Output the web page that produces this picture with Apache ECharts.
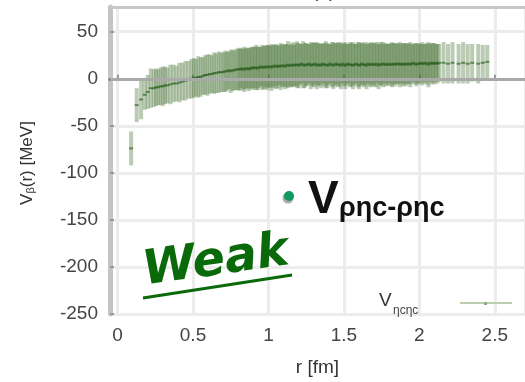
<!DOCTYPE html>
<html>
<head>
<meta charset="utf-8">
<script src="https://cdn.jsdelivr.net/npm/echarts@6/dist/echarts.min.js"></script>
<style>
  html, body { margin: 0; padding: 0; background: #fff; }
  #chart { width: 525px; height: 382px; }
</style>
</head>
<body>
<div id="chart"></div>
<script>
// Separation r [fm]
const rVals = [
  0.09, 0.127, 0.156, 0.18, 0.20, 0.22, 0.24, 0.255, 0.27, 0.285,
  0.30, 0.315, 0.33, 0.35, 0.37, 0.39, 0.41, 0.43, 0.45, 0.47,
  0.49, 0.505, 0.52, 0.535, 0.55, 0.565, 0.58, 0.595, 0.61, 0.625,
  0.64, 0.655, 0.67, 0.685,
  0.70, 0.713, 0.725, 0.738, 0.75, 0.763, 0.775, 0.788,
  0.80, 0.81, 0.82, 0.83, 0.84, 0.85, 0.86, 0.87, 0.88, 0.89,
  0.90, 0.91, 0.92, 0.93, 0.94, 0.95, 0.96, 0.97, 0.98, 0.99,
  1.00, 1.01, 1.02, 1.03, 1.04, 1.05, 1.06, 1.07, 1.08, 1.09,
  1.10, 1.11, 1.12, 1.13, 1.14, 1.15, 1.16, 1.17, 1.18, 1.19,
  1.20, 1.21, 1.22, 1.23, 1.24, 1.25, 1.26, 1.27, 1.28, 1.29,
  1.30, 1.31, 1.32, 1.33, 1.34, 1.35, 1.36, 1.37, 1.38, 1.39,
  1.40, 1.41, 1.42, 1.43, 1.44, 1.45, 1.46, 1.47, 1.48, 1.49,
  1.50, 1.51, 1.52, 1.53, 1.54, 1.55, 1.56, 1.57, 1.58, 1.59,
  1.60, 1.61, 1.62, 1.63, 1.64, 1.65, 1.66, 1.67, 1.68, 1.69,
  1.70, 1.71, 1.72, 1.73, 1.74, 1.75, 1.76, 1.77, 1.78, 1.79,
  1.80, 1.81, 1.82, 1.83, 1.84, 1.85, 1.86, 1.87, 1.88, 1.89,
  1.90, 1.91, 1.92, 1.93, 1.94, 1.95, 1.96, 1.97, 1.98, 1.99,
  2.00, 2.01, 2.02, 2.03, 2.04, 2.05, 2.06, 2.07, 2.08, 2.09,
  2.10, 2.11, 2.12, 2.13,
  2.16, 2.19, 2.22, 2.26, 2.29, 2.32, 2.35, 2.39, 2.42, 2.45
];

// Potential central values [MeV]
const vCenter = [
  -74, -28, -22, -17, -14, -10, -10, -9, -9, -8,
  -8, -7, -7, -6, -5, -5, -4, -3, -2, -1,
  0, 1, 1, 2, 2, 3, 4, 4, 5, 5,
  6, 6, 7, 7,
  7, 8, 8, 9, 8, 9, 9, 10,
  10, 10, 11, 10, 10, 11, 11, 10, 11, 12,
  11, 12, 12, 11, 12, 13, 12, 12, 13, 12,
  13, 13, 12, 13, 14, 13, 13, 14, 13, 14,
  14, 13, 14, 15, 14, 14, 15, 14, 15, 15,
  14, 15, 16, 15, 14, 15, 15, 16, 14, 15,
  15, 16, 14, 15, 15, 14, 16, 15, 15, 14,
  15, 16, 15, 14, 15, 16, 15, 15, 14, 16,
  15, 14, 15, 16, 15, 15, 14, 15, 16, 15,
  14, 15, 16, 15, 15, 14, 16, 15, 15, 16,
  15, 15, 16, 14, 15, 16, 15, 16, 15, 15,
  16, 15, 15, 16, 15, 16, 16, 15, 16, 15,
  16, 15, 16, 16, 15, 16, 17, 16, 15, 16,
  16, 17, 16, 16, 17, 16, 15, 17, 16, 17,
  16, 17, 16, 17,
  17, 16, 17, 16, 17, 16, 17, 16, 17, 18
];

// Statistical errors [MeV]
const vErr = [
  18, 18, 21, 16, 18, 21, 20, 20, 19, 20,
  21, 20, 19, 21, 20, 19, 21, 20, 21, 20,
  21, 21, 20, 22, 21, 20, 21, 22, 21, 20,
  22, 21, 22, 21,
  21, 22, 21, 20, 23, 22, 21, 22,
  22, 23, 21, 22, 24, 22, 21, 23, 22, 22,
  23, 22, 24, 23, 22, 21, 24, 23, 22, 24,
  23, 22, 25, 23, 22, 24, 23, 21, 25, 23,
  22, 24, 23, 25, 22, 23, 24, 22, 23, 25,
  24, 22, 21, 25, 24, 23, 22, 21, 25, 23,
  24, 22, 25, 23, 22, 24, 21, 23, 25, 24,
  22, 21, 24, 25, 23, 22, 24, 23, 25, 21,
  23, 25, 22, 21, 24, 23, 25, 22, 21, 24,
  25, 23, 22, 24, 22, 25, 21, 23, 24, 22,
  23, 24, 21, 25, 22, 23, 24, 21, 23, 22,
  21, 23, 24, 22, 23, 21, 22, 24, 21, 23,
  22, 23, 21, 22, 24, 21, 20, 22, 23, 21,
  22, 20, 23, 21, 20, 22, 24, 20, 22, 21,
  22, 20, 21, 20,
  22, 21, 22, 21, 22, 21, 20, 21, 19, 18
];

const baseFont = 'Liberation Sans, Arial, sans-serif';
const chart = echarts.init(document.getElementById('chart'), null, { renderer: 'canvas' });

const barData = rVals.map((r, i) => [r, vCenter[i], vErr[i]]);

// Each point: a translucent error band plus a short dark tick at the central value
function renderErrorBar(params, api) {
  const r = api.value(0), c = api.value(1), e = api.value(2);
  const hi = api.coord([r, c + e]);
  const lo = api.coord([r, c - e]);
  const mid = api.coord([r, c]);
  const w = 4;
  return {
    type: 'group',
    children: [
      { type: 'rect', shape: { x: mid[0] - w / 2, y: hi[1], width: w, height: lo[1] - hi[1] },
        style: { fill: 'rgba(66,112,46,0.36)' } },
      { type: 'rect', shape: { x: mid[0] - w / 2, y: mid[1] - 1, width: w, height: 2 },
        style: { fill: 'rgba(36,90,26,0.62)' } }
    ]
  };
}

const option = {
  animation: false,
  backgroundColor: '#ffffff',
  grid: { left: 110, right: -11, top: 7, bottom: 64, containLabel: false },
  xAxis: [{
    type: 'value', min: -0.05, max: 2.7, splitNumber: 5,
    name: 'r [fm]', nameLocation: 'middle', nameGap: 44,
    nameTextStyle: { fontFamily: baseFont, fontSize: 19, color: '#333' },
    axisLine: { show: true, lineStyle: { color: '#6b6b6b', width: 3 } },
    axisTick: { show: true, inside: true, length: 4, lineStyle: { color: '#999', width: 2 } },
    axisLabel: { showMinLabel: false, showMaxLabel: false, margin: 12,
      fontFamily: baseFont, fontSize: 19, color: '#444' },
    splitLine: { show: true, lineStyle: { color: '#ececec', width: 3 } }
  }, {
    type: 'value', position: 'top', min: -0.05, max: 2.7,
    axisLine: { show: true, onZero: false, lineStyle: { color: '#c8c8c8', width: 3 } },
    axisTick: { show: false }, axisLabel: { show: false }, splitLine: { show: false }
  }],
  yAxis: {
    type: 'value', min: -250, max: 76.3, interval: 50,
    axisLine: { show: true, onZero: false, lineStyle: { color: '#c4c4c4', width: 5 } },
    axisTick: { show: true, inside: true, length: 4, lineStyle: { color: '#999', width: 2 } },
    axisLabel: { showMaxLabel: false, margin: 12, fontFamily: baseFont, fontSize: 19, color: '#444' },
    splitLine: { show: true, lineStyle: { color: '#ececec', width: 3 } }
  },
  series: [{
    type: 'line', data: [], z: 1, silent: true,
    markLine: {
      silent: true, symbol: 'none', label: { show: false },
      lineStyle: { color: '#a9a9a9', width: 3, type: 'solid' },
      data: [{ yAxis: 0 }]
    }
  }, {
    type: 'custom', name: 'V', z: 3, clip: true,
    renderItem: renderErrorBar,
    encode: { x: 0, y: 1 },
    data: barData
  }],
  graphic: [
    // vertical axis title
    { type: 'text', x: 27, y: 163, rotation: Math.PI / 2, z: 10,
      style: { text: '{v|V}{s|β}{v|(r) [MeV]}', x: 0, y: 0, align: 'center', verticalAlign: 'middle',
        rich: {
          v: { fontFamily: baseFont, fontSize: 17, fill: '#333' },
          s: { fontFamily: baseFont, fontSize: 11, fill: '#333', padding: [7, 0, 0, 0] }
        } } },
    // panel tag at the top edge
    { type: 'text', left: 312, top: -18, z: 10,
      style: { text: '(a)', fontFamily: baseFont, fontSize: 19, fill: '#333' } },
    // channel label
    { type: 'circle', shape: { cx: 288, cy: 198, r: 5.5 }, style: { fill: '#555', opacity: 0.5 }, z: 10 },
    { type: 'circle', shape: { cx: 289, cy: 196, r: 5 }, style: { fill: '#0f9a5f' }, z: 11 },
    { type: 'text', left: 308, top: 177, z: 10,
      style: { text: 'V', fontFamily: baseFont, fontWeight: 'bold', fontSize: 46, fill: '#111' } },
    { type: 'text', left: 339, top: 195, z: 10,
      style: { text: 'ρηc-ρηc', fontFamily: baseFont, fontWeight: 'bold', fontSize: 27, fill: '#111' } },
    // strength tag
    { type: 'text', x: 216, y: 262, rotation: 0.14, z: 10,
      style: { text: 'Weak', x: 0, y: 0, align: 'center', verticalAlign: 'middle',
        fontFamily: 'DejaVu Sans', fontWeight: 'bold', fontStyle: 'italic', fontSize: 48, fill: '#0a6a0a' } },
    { type: 'line', shape: { x1: 143, y1: 298, x2: 292, y2: 275 }, z: 10,
      style: { stroke: '#0a6a0a', lineWidth: 3 } },
    // key
    { type: 'text', left: 379, top: 291, z: 10,
      style: { text: 'V', fontFamily: baseFont, fontSize: 19, fill: '#333' } },
    { type: 'text', left: 393, top: 305, z: 10,
      style: { text: 'ηcηc', fontFamily: baseFont, fontSize: 12, fill: '#444' } },
    { type: 'line', shape: { x1: 460, y1: 303, x2: 512, y2: 303 }, z: 10,
      style: { stroke: '#b9cfae', lineWidth: 2 } },
    { type: 'rect', shape: { x: 484, y: 302, width: 3, height: 3 }, z: 11,
      style: { fill: '#8fae80' } }
  ]
};

chart.setOption(option);
</script>
</body>
</html>
